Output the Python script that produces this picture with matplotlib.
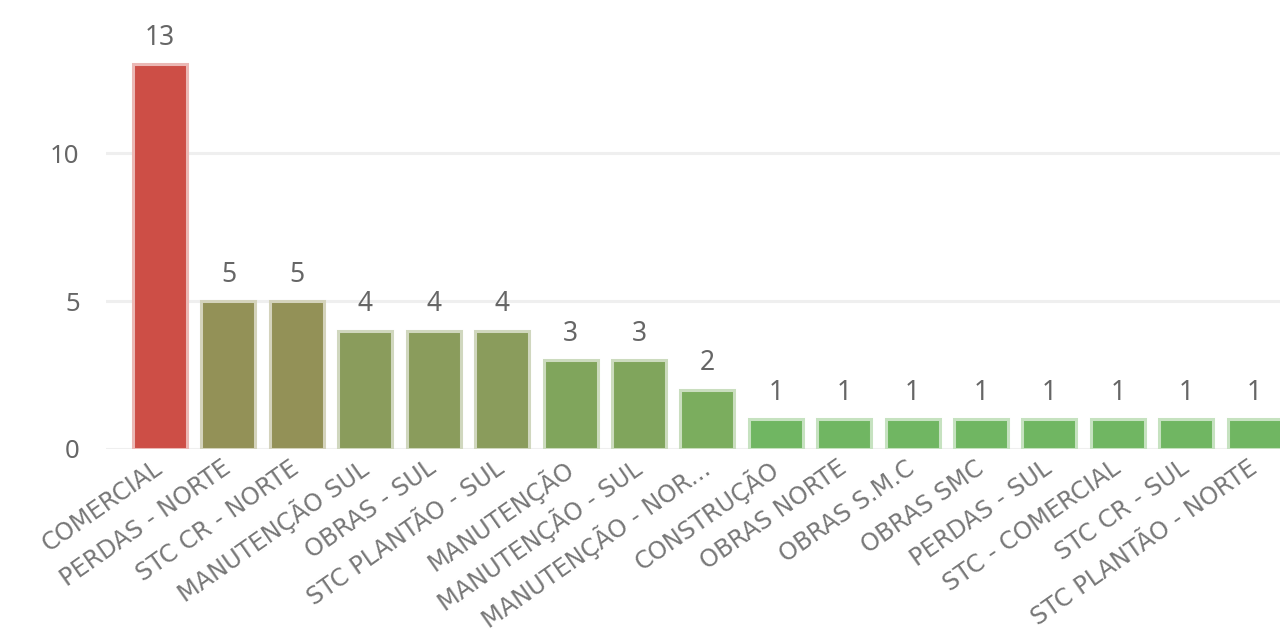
import numpy as np
import matplotlib
matplotlib.use('Agg')
import matplotlib.pyplot as plt
from matplotlib import colors as mcolors

plt.rcParams['font.family'] = ['Noto Sans', 'DejaVu Sans']

# data
categorias = ['COMERCIAL', 'PERDAS - NORTE', 'STC CR - NORTE', 'MANUTENÇÃO SUL',
              'OBRAS - SUL', 'STC PLANTÃO - SUL', 'MANUTENÇÃO', 'MANUTENÇÃO - SUL',
              'MANUTENÇÃO - NOR...', 'CONSTRUÇÃO', 'OBRAS NORTE', 'OBRAS S.M.C',
              'OBRAS SMC', 'PERDAS - SUL', 'STC - COMERCIAL', 'STC CR - SUL',
              'STC PLANTÃO - NORTE']
valores = [13, 5, 5, 4, 4, 4, 3, 3, 2, 1, 1, 1, 1, 1, 1, 1, 1]
yticks = [0, 5, 10]

# colour per value (red high -> green low)
cor_valor = {13: '#cd4e46', 5: '#939157', 4: '#8a9c5c', 3: '#80a55c',
             2: '#7bad5e', 1: '#70b662'}

def clarear(c, f=0.6):
    r, g, b = mcolors.to_rgb(c)
    return (r + (1 - r) * f, g + (1 - g) * f, b + (1 - b) * f)

cores = [cor_valor[v] for v in valores]
bordas = [clarear(c) for c in cores]

fig = plt.figure(figsize=(12.8, 6.33), dpi=100)
ax = fig.add_axes([0.0828, 0.2907, 0.9172, 0.7093])

x = np.arange(len(valores))
bars = ax.bar(x, valores, width=0.79, color=cores, edgecolor=bordas,
              linewidth=2.2, zorder=2)

for xi, v in zip(x, valores):
    ax.annotate(str(v), (xi, v), xytext=(0, 14), textcoords='offset points',
                ha='center', va='baseline', fontsize=19, color='#666666')

ax.set_xlim(-0.79, 16.37)
ax.set_ylim(0, 15.17)
ax.set_yticks(yticks)
ax.set_yticklabels([str(t) for t in yticks], fontsize=18.5, color='#666666')
ax.yaxis.grid(True, color='#efefef', linewidth=2.2, zorder=0)
ax.set_axisbelow(True)

ax.set_xticks(x)
ax.set_xticklabels(categorias, rotation=35, ha='right', va='center',
                   rotation_mode='anchor', fontsize=17.3, color='#777777',
                   family='DejaVu Sans')
ax.tick_params(axis='both', length=0)
ax.tick_params(axis='y', pad=19)
ax.tick_params(axis='x', pad=12)

for s in ax.spines.values():
    s.set_visible(False)

plt.savefig('out.png', dpi=100)
